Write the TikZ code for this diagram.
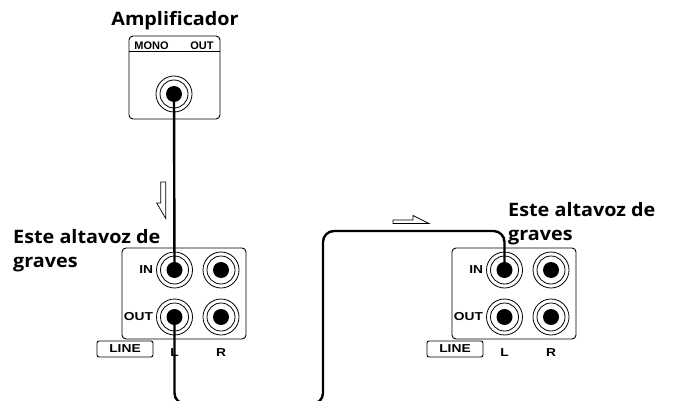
\documentclass[tikz,border=0pt]{standalone}
\usepackage{fontspec}
\setmainfont{Open Sans}[FakeStretch=1.07]
\newfontfamily\panelfont[FakeStretch=1.2]{Liberation Sans}
\newfontfamily\headfont{Liberation Sans}
\usetikzlibrary{positioning}

\tikzset{
  panel/.style={draw, line width=0.9pt, rounded corners=4pt, inner sep=0pt},
  tag/.style={font=\panelfont\bfseries\fontsize{11.5}{12}\selectfont, inner sep=0pt},
  head/.style={tag, font=\headfont\bfseries\fontsize{11}{11}\selectfont},
  title/.style={font=\bfseries\fontsize{18.5}{24}\selectfont, align=left, inner sep=0pt},
  jack/.style={circle, fill=black, minimum size=16pt, inner sep=0pt},
  cable/.style={line width=2.4pt, rounded corners=11pt},
  hollow/.style={draw, fill=white, line width=0.7pt, line join=miter},
}

\begin{document}
\begin{tikzpicture}[x=1pt, y=-1pt]
    \useasboundingbox (0,0) rectangle (674,401);
    \clip (0,0) rectangle (674,401);

    % amplifier
    \node[title, anchor=base] (amptitle) at (175,26) {Amplificador};
    \node[panel, minimum width=91pt, minimum height=83pt] (ampbox) at (174.5,77.5) {};
    \draw[line width=0.9pt] (129,51) -- (220,51);
    \node[head] (mono) at (151.5,45.5) {MONO};
    \node[head] (monoout) at (202,45.5) {OUT};
    \node[jack] (amp) at (174,94) {};

    % both subwoofer panels
    \foreach \b/\x in {a/184, b/514} {
      \node[panel, minimum width=124pt, minimum height=91pt] (\b box) at (\x,293.5) {};
      \node[jack] (\b inL) at (\x-9.5,270) {};
      \node[jack] (\b inR) at (\x+37,270) {};
      \node[jack] (\b outL) at (\x-9.5,317) {};
      \node[jack] (\b outR) at (\x+37,317) {};
      \node[tag, left=13pt of \b inL] (\b inlabel) {IN};
      \node[tag, left=13pt of \b outL] (\b outlabel) {OUT};
      \node[tag, below=23pt of \b outL] (\b lL) {L};
      \node[tag, below=23pt of \b outR] (\b lR) {R};
      \node[tag, panel, rounded corners=2pt, minimum width=56pt, minimum height=16pt]
        (\b line) at (\x-59,349) {LINE};
    }
    \foreach \j in {amp, ainL, ainR, aoutL, aoutR, binL, binR, boutL, boutR}
      \draw[line width=0.8pt] (\j) circle (18pt) (\j) circle (14pt);

    \node[title, anchor=base west] (atitle) at (13,267) {Este altavoz de\\graves};
    \node[title, anchor=base west] (btitle) at (508,240) {Este altavoz de\\graves};

    % cables
    \coordinate (loop) at (323,404);
    \coordinate (rise) at (323,231);
    \draw[cable] (amp.center) -- (ainL.center);
    \draw[cable] (aoutL.center) |- (loop) -- (rise) -| (binL.center);

    % direction arrows
    \draw[hollow] (160.7,182) -- (165.7,182) -- (165.7,218.5) -- (156.7,203) -- (160.7,203) -- cycle;
    \draw[hollow] (393,220) -- (413,220) -- (413,215.5) -- (429,223.5) -- (393,223.5) -- cycle;
\end{tikzpicture}
\end{document}
